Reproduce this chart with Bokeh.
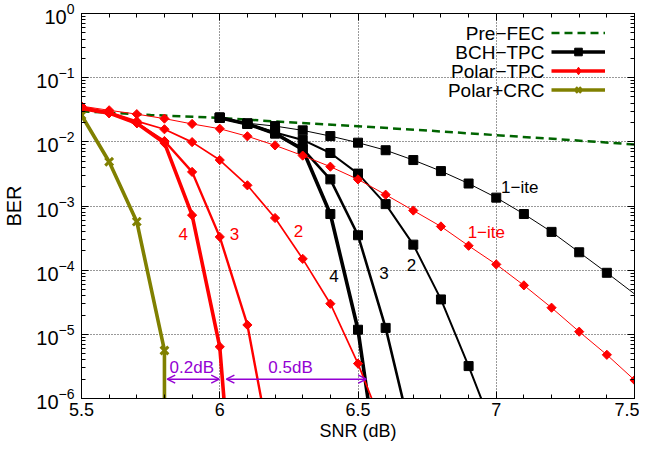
import math
from bokeh.plotting import figure
from bokeh.models import (Range1d, LogAxis, LinearAxis, FixedTicker, SingleIntervalTicker,
                          Legend, LegendItem, Label, Arrow, OpenHead, ColumnDataSource,
                          CustomJSTickFormatter)
from bokeh.embed import file_html
from bokeh.resources import INLINE
from bokeh.core.properties import value

# ---------------- data ----------------
snr_prefec = [5.5, 5.75, 6.0, 6.25, 6.5, 6.75, 7.0, 7.25, 7.5]
ber_prefec = [0.0300, 0.0262, 0.0236, 0.0202, 0.0175, 0.0150, 0.0127, 0.0108, 0.0091]

snr_bch1 = [6.0, 6.1, 6.2, 6.3, 6.4, 6.5, 6.6, 6.7, 6.8, 6.9, 7.0, 7.1, 7.2, 7.3, 7.4, 7.6]
ber_bch1 = [0.0238, 0.0195, 0.0176, 0.0151, 0.0123, 0.0097, 0.0074, 0.0052, 0.0035,
            0.00224, 0.00135, 7.5e-4, 3.95e-4, 1.9e-4, 9.1e-5, 2.0e-5]
snr_bch2 = [6.0, 6.1, 6.2, 6.3, 6.4, 6.5, 6.6, 6.7, 6.8, 6.9, 7.0]
ber_bch2 = [0.0238, 0.019, 0.0140, 0.0107, 0.0067, 0.0032, 0.00107, 2.5e-4, 3.5e-5, 3.2e-6, 2.5e-7]
snr_bch3 = [6.0, 6.1, 6.2, 6.3, 6.4, 6.5, 6.6, 6.7]
ber_bch3 = [0.0238, 0.019, 0.0135, 0.0078, 0.0026, 3.5e-4, 1.26e-5, 2.0e-7]
snr_bch4 = [6.0, 6.1, 6.2, 6.3, 6.4, 6.5, 6.6]
ber_bch4 = [0.0238, 0.019, 0.0135, 0.0076, 7.5e-4, 1.18e-5, 1.2e-8]

snr_pol1 = [5.5, 5.6, 5.7, 5.8, 5.9, 6.0, 6.1, 6.2, 6.3, 6.4, 6.5, 6.6, 6.7, 6.8, 6.9,
            7.0, 7.1, 7.2, 7.3, 7.4, 7.5]
ber_pol1 = [0.036, 0.031, 0.027, 0.023, 0.019, 0.016, 0.0122, 8.8e-3, 6.1e-3, 4.1e-3, 2.6e-3,
            1.5e-3, 8.5e-4, 4.8e-4, 2.4e-4, 1.23e-4, 5.8e-5, 2.6e-5, 1.1e-5, 4.8e-6, 1.94e-6]
snr_pol2 = [5.5, 5.6, 5.7, 5.8, 5.9, 6.0, 6.1, 6.2, 6.3, 6.4, 6.5, 6.6]
ber_pol2 = [0.035, 0.029, 0.021, 0.0157, 0.0099, 5.2e-3, 2.1e-3, 6.5e-4, 1.5e-4, 3.0e-5, 3.5e-6, 2.8e-7]
snr_pol3 = [5.5, 5.6, 5.7, 5.8, 5.9, 6.0, 6.1, 6.2]
ber_pol3 = [0.034, 0.028, 0.0195, 0.0103, 3.4e-3, 3.3e-4, 1.4e-5, 7.0e-8]
snr_pol4 = [5.5, 5.6, 5.7, 5.8, 5.9, 6.0, 6.1]
ber_pol4 = [0.033, 0.028, 0.0195, 0.0096, 7.2e-4, 6.4e-6, 3.0e-11]

snr_crc = [5.5, 5.6, 5.7, 5.8, 5.8]
ber_crc = [0.026, 0.0049, 5.7e-4, 5.6e-6, 1.0e-9]

legend_names = ["Pre\u2212FEC", "BCH\u2212TPC", "Polar\u2212TPC", "Polar+CRC"]

lab_text = ["4", "3", "2", "1\u2212ite", "4", "3", "2", "1\u2212ite"]
lab_x = [5.868, 6.053, 6.285, 6.964, 6.413, 6.594, 6.693, 7.085]
lab_y = [3.7e-4, 3.7e-4, 4.07e-4, 3.9e-4, 8.1e-5, 9.0e-5, 1.21e-4, 1.96e-3]
lab_color = ["#ff0000", "#ff0000", "#ff0000", "#ff0000", "#000000", "#000000", "#000000", "#000000"]

gap_text = ["0.2dB", "0.5dB"]
gap_text_x = [5.899, 6.256]
gap_text_y = [3.05e-6, 3.05e-6]
gap_x0 = [5.81, 6.024]
gap_x1 = [5.998, 6.53]
gap_y = [2.0e-6, 2.0e-6]

y_major = [1e-6, 1e-5, 1e-4, 1e-3, 1e-2, 1e-1, 1.0]
y_minor = [m * 10.0 ** e for e in range(-6, 0) for m in range(2, 10)]

# ---------------- style ----------------
FONT = "Liberation Sans"
RED = "#ff0000"
BLACK = "#000000"
OLIVE = "#808000"
GREEN = "#006400"
VIOLET = "#9400d3"

FW, FH = 553, 385
BL, BR, BT, BB = 80, 5, 13, 48

p = figure(frame_width=FW, frame_height=FH, x_range=Range1d(5.5, 7.5), y_range=Range1d(1e-6, 1.0),
           y_axis_type="log", output_backend="svg", toolbar_location=None,
           min_border_left=BL, min_border_right=BR, min_border_top=BT, min_border_bottom=BB,
           background_fill_color="white", border_fill_color="white")
p.outline_line_color = BLACK
p.outline_line_width = 1

xt = SingleIntervalTicker(interval=0.5, num_minor_ticks=5)
yt = FixedTicker(ticks=y_major, minor_ticks=y_minor)
p.xaxis.ticker = xt
p.yaxis.ticker = yt
p.xaxis.formatter = CustomJSTickFormatter(code="return (Math.round(tick*10)/10).toString();")
p.xgrid.ticker = xt
p.ygrid.ticker = yt
p.grid.grid_line_color = "#333333"
p.grid.grid_line_dash = "1 2"
p.grid.grid_line_width = 1

for ax in [p.xaxis[0], p.yaxis[0]]:
    ax.major_tick_in = 7
    ax.major_tick_out = 0
    ax.minor_tick_in = 4
    ax.minor_tick_out = 0
    ax.axis_line_color = BLACK
    ax.major_tick_line_color = BLACK
    ax.minor_tick_line_color = BLACK
    ax.major_label_text_font = FONT
    ax.major_label_text_font_size = "18px"
    ax.major_label_text_color = BLACK
    ax.axis_label_text_font = FONT
    ax.axis_label_text_font_size = "18px"
    ax.axis_label_text_font_style = "normal"
    ax.axis_label_text_color = BLACK

p.yaxis.major_label_text_font_size = "20px"
p.yaxis.axis_label_text_font_size = "20px"
p.xaxis.axis_label = "SNR (dB)"
p.yaxis.axis_label = "BER"
p.xaxis.major_label_standoff = 4
p.yaxis.major_label_standoff = 7
p.xaxis.axis_label_standoff = 2
p.yaxis.axis_label_standoff = 8

blank = CustomJSTickFormatter(code="return '';")
top = LinearAxis(ticker=xt, formatter=blank, major_tick_in=7, major_tick_out=0,
                 minor_tick_in=4, minor_tick_out=0, major_label_standoff=0,
                 major_label_text_font_size="1px")
right = LogAxis(ticker=yt, formatter=blank, major_tick_in=7, major_tick_out=0,
                minor_tick_in=4, minor_tick_out=0, major_label_standoff=0,
                major_label_text_font_size="1px")
p.add_layout(top, "above")
p.add_layout(right, "right")

# ---------------- curves ----------------
r_pre = p.line(snr_prefec, ber_prefec, line_color=GREEN, line_width=2.5, line_dash="8 5")

def curve(x, y, color, lw, marker, msize, mlw=1.0, angle=0.0):
    rl = p.line(x, y, line_color=color, line_width=lw)
    rm = p.scatter(x, y, marker=marker, size=msize, fill_color=color, line_color=color,
                   line_width=mlw, angle=angle)
    return rl, rm

curve(snr_bch1, ber_bch1, BLACK, 1.0, "square", 9)
curve(snr_bch2, ber_bch2, BLACK, 2.0, "square", 9)
curve(snr_bch3, ber_bch3, BLACK, 2.6, "square", 9)
bch_l, bch_m = curve(snr_bch4, ber_bch4, BLACK, 3.6, "square", 9)

DIA = math.pi / 4
curve(snr_pol1, ber_pol1, RED, 1.0, "square", 6.5, angle=DIA)
curve(snr_pol2, ber_pol2, RED, 1.7, "square", 6.5, angle=DIA)
curve(snr_pol3, ber_pol3, RED, 2.4, "square", 6.5, angle=DIA)
# plain diamond underneath (hidden by the rotated square) so the legend shows a diamond
pol_leg = p.scatter(snr_pol4, ber_pol4, marker="diamond", size=9, fill_color=RED, line_color=RED)
pol_l, pol_m = curve(snr_pol4, ber_pol4, RED, 3.6, "square", 6.5, angle=DIA)

crc_l, crc_m = curve(snr_crc, ber_crc, OLIVE, 3.6, "x", 11, mlw=3)

# ---------------- annotations ----------------
p.text(x=lab_x, y=lab_y, text=lab_text, text_color=lab_color, text_font=value(FONT),
       text_font_size="17px", text_align="center", text_baseline="middle")
p.text(x=gap_text_x, y=gap_text_y, text=gap_text, text_color=VIOLET, text_font=value(FONT),
       text_font_size="17px", text_align="center", text_baseline="middle")
arrow_src = ColumnDataSource(dict(x0=gap_x0, x1=gap_x1, y=gap_y))
p.add_layout(Arrow(x_start="x0", y_start="y", x_end="x1", y_end="y", source=arrow_src,
                   line_color=VIOLET, line_width=1.5,
                   start=OpenHead(size=8, line_color=VIOLET, line_width=1.5),
                   end=OpenHead(size=8, line_color=VIOLET, line_width=1.5)))

# ---------------- legend (samples at right, text right-aligned to the left) ----------------
ROW = 19
PAD = 6
MARG = 4
LW = 19
legend = Legend(items=[
    LegendItem(label=value(" "), renderers=[r_pre]),
    LegendItem(label=value(" "), renderers=[bch_l, bch_m]),
    LegendItem(label=value(" "), renderers=[pol_l, pol_leg]),
    LegendItem(label=value(" "), renderers=[crc_l, crc_m]),
], location="top_right", margin=MARG, padding=PAD, spacing=0, glyph_width=54, glyph_height=ROW,
   label_height=ROW, label_width=LW, label_standoff=0, label_text_font_size="6px",
   background_fill_alpha=0, border_line_alpha=0)
p.add_layout(legend)

for i, name in enumerate(legend_names):
    p.add_layout(Label(x=FW - MARG - PAD - LW - 54 - 7, y=FH - MARG - PAD - ROW / 2 - ROW * i,
                       x_units="screen", y_units="screen", text=name, text_align="right",
                       text_baseline="middle", text_font=FONT, text_font_size="19px",
                       text_color=BLACK))

open("out.html", "w").write(file_html(p, INLINE))
